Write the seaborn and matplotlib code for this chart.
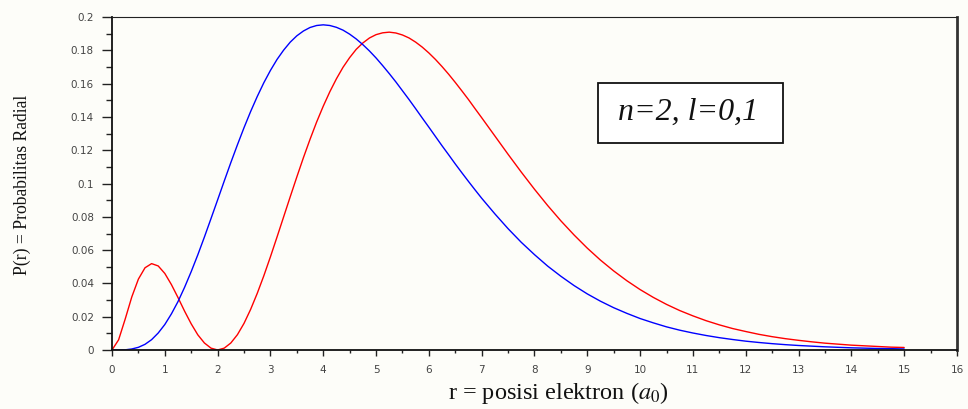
import matplotlib
matplotlib.use("Agg")
import matplotlib.pyplot as plt
import seaborn as sns
import pandas as pd
from matplotlib.patches import Rectangle
from matplotlib.ticker import MultipleLocator, FixedLocator, FixedFormatter

# r positions (units of a0)
r_values = [0, 0.125, 0.25, 0.375, 0.5, 0.625, 0.75, 0.875, 1, 1.125, 1.25, 1.375,
            1.5, 1.625, 1.75, 1.875, 2, 2.125, 2.25, 2.375, 2.5, 2.625, 2.75, 2.875,
            3, 3.125, 3.25, 3.375, 3.5, 3.625, 3.75, 3.875, 4, 4.125, 4.25, 4.375,
            4.5, 4.625, 4.75, 4.875, 5, 5.125, 5.25, 5.375, 5.5, 5.625, 5.75, 5.875,
            6, 6.125, 6.25, 6.375, 6.5, 6.625, 6.75, 6.875, 7,
            7.25, 7.5, 7.75, 8, 8.25, 8.5, 8.75, 9, 9.25, 9.5, 9.75, 10,
            10.25, 10.5, 10.75, 11, 11.25, 11.5, 11.75, 12, 12.25, 12.5, 12.75, 13,
            13.25, 13.5, 13.75, 14, 14.25, 14.5, 14.75, 15]

# n=2, l=0 (red)
p_l0 = [0, 0.0061, 0.0186, 0.0319, 0.0426, 0.0494, 0.0519, 0.0505, 0.0460, 0.0393,
        0.0315, 0.0233, 0.0157, 0.0091, 0.0042, 0.0011, 0, 0.0011, 0.0042, 0.0092,
        0.0160, 0.0244, 0.0340, 0.0446, 0.0560, 0.0679, 0.0800, 0.0921, 0.1040,
        0.1156, 0.1266, 0.1370, 0.1465, 0.1552, 0.1630, 0.1699, 0.1757, 0.1807,
        0.1845, 0.1875, 0.1895, 0.1906, 0.1910, 0.1905, 0.1893, 0.1875, 0.1850,
        0.1820, 0.1785, 0.1746, 0.1703, 0.1657, 0.1608, 0.1557, 0.1505, 0.1450,
        0.1396,
        0.1286, 0.1176, 0.1069, 0.0966, 0.0868, 0.0776, 0.0691, 0.0612, 0.0540,
        0.0475, 0.0416, 0.0363, 0.0316, 0.0274, 0.0237, 0.0205, 0.0176, 0.0151,
        0.0129, 0.0111, 0.0094, 0.0080, 0.0068, 0.0058, 0.0049, 0.0041, 0.0035,
        0.0029, 0.0025, 0.0021, 0.0017, 0.0015]

# n=2, l=1 (blue)
p_l1 = [0, 0.0000, 0.0001, 0.0006, 0.0016, 0.0034, 0.0062, 0.0102, 0.0153, 0.0217,
        0.0291, 0.0377, 0.0471, 0.0572, 0.0679, 0.0790, 0.0902, 0.1015, 0.1126,
        0.1233, 0.1336, 0.1433, 0.1523, 0.1606, 0.1680, 0.1746, 0.1802, 0.1850,
        0.1888, 0.1917, 0.1938, 0.1950, 0.1954, 0.1950, 0.1939, 0.1922, 0.1898,
        0.1869, 0.1835, 0.1797, 0.1755, 0.1709, 0.1661, 0.1611, 0.1558, 0.1505,
        0.1450, 0.1394, 0.1339, 0.1283, 0.1227, 0.1173, 0.1118, 0.1065, 0.1013,
        0.0962, 0.0912,
        0.0818, 0.0729, 0.0647, 0.0573, 0.0504, 0.0443, 0.0387, 0.0337, 0.0293,
        0.0254, 0.0220, 0.0189, 0.0163, 0.0139, 0.0119, 0.0102, 0.0087, 0.0074,
        0.0063, 0.0053, 0.0045, 0.0038, 0.0032, 0.0027, 0.0023, 0.0019, 0.0016,
        0.0013, 0.0011, 0.0009, 0.0008, 0.0006]

x_ticks = list(range(0, 17))
x_tick_labels = [str(v) for v in x_ticks]
y_ticks = [0, 0.02, 0.04, 0.06, 0.08, 0.1, 0.12, 0.14, 0.16, 0.18, 0.2]
y_tick_labels = ["0", "0.02", "0.04", "0.06", "0.08", "0.1", "0.12", "0.14", "0.16", "0.18", "0.2"]

x_label = "r = posisi elektron ($a_0$)"
y_label = "P(r) = Probabilitas Radial"
annotation = "n=2, l=0,1"

sns.set_theme(style="ticks")
plt.rcParams["mathtext.fontset"] = "stix"

df = pd.DataFrame({
    "r": r_values * 2,
    "P": p_l0 + p_l1,
    "l": ["0"] * len(r_values) + ["1"] * len(r_values),
})

fig = plt.figure(figsize=(9.68, 4.09), dpi=100)
bg = "#fdfdf9"
fig.patch.set_facecolor(bg)
ax = fig.add_axes([0.1157, 0.1443, 0.8729, 0.8137])
ax.set_facecolor(bg)

sns.lineplot(data=df, x="r", y="P", hue="l", palette={"0": "#ff0000", "1": "#0000ff"},
             linewidth=1.0, legend=False, ax=ax, sort=False, estimator=None)

ax.set_xlim(0, 16)
ax.set_ylim(0, 0.2)
ax.xaxis.set_major_locator(FixedLocator(x_ticks))
ax.xaxis.set_major_formatter(FixedFormatter(x_tick_labels))
ax.xaxis.set_minor_locator(MultipleLocator(0.5))
ax.yaxis.set_major_locator(FixedLocator(y_ticks))
ax.yaxis.set_major_formatter(FixedFormatter(y_tick_labels))
ax.yaxis.set_minor_locator(MultipleLocator(0.01))

ax.tick_params(axis="both", which="both", direction="out", colors="#222222",
               labelcolor="#444444", labelsize=7.5)
ax.tick_params(axis="y", which="major", length=7, width=1.0, pad=6)
ax.tick_params(axis="y", which="minor", length=4, width=1.0)
ax.tick_params(axis="x", which="major", length=4, width=1.0, pad=7)
ax.tick_params(axis="x", which="minor", length=2.5, width=1.0)

for side in ["left", "bottom"]:
    ax.spines[side].set_color("#111111")
    ax.spines[side].set_linewidth(1.3)
ax.spines["top"].set_color("#222222")
ax.spines["top"].set_linewidth(0.8)
ax.spines["right"].set_color("#333333")
ax.spines["right"].set_linewidth(2.0)
ax.spines["top"].set_visible(True)
ax.spines["right"].set_visible(True)

ax.set_xlabel("")
ax.set_ylabel("")
fig.text(0.5765, 0.040, x_label, ha="center", va="center",
         fontsize=17.5, family="Liberation Serif", color="#111111")
fig.text(0.023, 0.548, y_label, ha="center", va="center", rotation=90,
         fontsize=12.7, family="Liberation Serif", color="#111111")

fig.patches.append(Rectangle((0.6178, 0.6504), 0.1911, 0.1467, transform=fig.transFigure,
                             fill=True, facecolor="white", edgecolor="#111111", linewidth=1.3))
fig.text(0.7103, 0.7260, annotation, ha="center", va="center", fontsize=23,
         family="Liberation Serif", style="italic", color="#111111")

fig.savefig("out.png", dpi=100, facecolor=bg)
